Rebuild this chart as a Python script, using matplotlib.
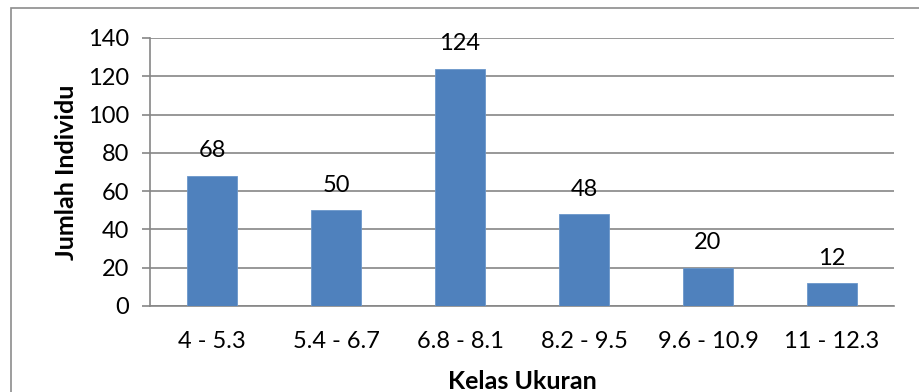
import matplotlib
matplotlib.use("Agg")
import matplotlib.pyplot as plt
from matplotlib.patches import Rectangle

categories = ["4 - 5.3", "5.4 - 6.7", "6.8 - 8.1", "8.2 - 9.5", "9.6 - 10.9", "11 - 12.3"]
counts = [68, 50, 124, 48, 20, 12]
y_ticks = [0, 20, 40, 60, 80, 100, 120, 140]

plt.rcParams["font.family"] = ["Lato", "DejaVu Sans"]

W, H = 919, 392
fig = plt.figure(figsize=(W / 100, H / 100), dpi=100)

# chart area border
fig.patches.append(Rectangle((11 / W, -0.1), 1.2, 0.1 + 1 - 8 / H,
                             transform=fig.transFigure, fill=False,
                             edgecolor="#8c8c8c", linewidth=1.2))

ax = fig.add_axes([150 / W, 1 - 306 / H, (894 - 150) / W, (306 - 38) / H])
x = list(range(len(categories)))
ax.bar(x, counts, width=0.40, color="#4F81BD", edgecolor="#6b97cb", linewidth=0.6, zorder=3)
ax.set_xlim(-0.5, len(categories) - 0.5)
ax.set_ylim(0, 140)
ax.set_yticks(y_ticks)
ax.set_xticks(x)
ax.set_xticklabels(categories)

ax.grid(axis="y", color="#868686", linewidth=1.2, zorder=0)
for s in ["top", "right"]:
    ax.spines[s].set_visible(False)
for s in ["left", "bottom"]:
    ax.spines[s].set_color("#868686")
    ax.spines[s].set_linewidth(1.2)
ax.tick_params(axis="y", length=6, width=1.2, color="#868686", pad=9, labelsize=17)
ax.tick_params(axis="x", length=0, pad=18, labelsize=17)

for xi, v in zip(x, counts):
    ax.annotate(str(v), (xi, v), xytext=(0, 18), textcoords="offset points",
                ha="center", va="center", fontsize=17, zorder=4)

ax.set_ylabel("Jumlah Individu", fontsize=18, fontweight="bold", labelpad=7)
ax.set_xlabel("Kelas Ukuran", fontsize=18, fontweight="bold", labelpad=13)

fig.savefig("out.png", dpi=100)
